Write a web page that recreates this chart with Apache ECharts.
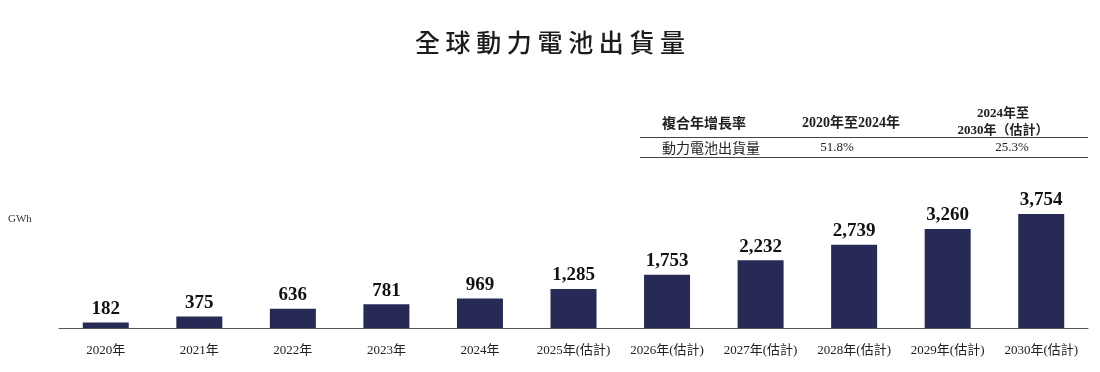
<!DOCTYPE html>
<html><head><meta charset="utf-8">
<script src="https://cdn.jsdelivr.net/npm/echarts@6/dist/echarts.min.js"></script>
<style>html,body{margin:0;padding:0;background:#fff}#c{width:1100px;height:372px}</style>
</head><body><div id="c"></div>
<script>
const categories = ['2020年','2021年','2022年','2023年','2024年','2025年(估計)','2026年(估計)','2027年(估計)','2028年(估計)','2029年(估計)','2030年(估計)'];
const shipments = [182, 375, 636, 781, 969, 1285, 1753, 2232, 2739, 3260, 3754];
const cagrHeaders = ['複合年增長率', '2020年至2024年', '2024年至\n2030年（估計）'];
const cagrRow = ['動力電池出貨量', '51.8%', '25.3%'];
const titleText = '全球動力電池出貨量';

const serif = '"Liberation Serif","Times New Roman","Noto Sans CJK TC",serif';
const cjk = '"Noto Sans CJK TC","Noto Sans CJK SC",sans-serif';
const ink = '#222';
const chart = echarts.init(document.getElementById('c'));
chart.setOption({
  animation: false,
  title: {
    text: titleText.split('').join(' '), left: 'center', top: 25,
    textStyle: {fontFamily: cjk, fontSize: 25, fontWeight: 500, color: '#1c1c1c'}
  },
  grid: {left: 59, right: 12, top: 206.4, bottom: 44},
  xAxis: {
    type: 'category', data: categories,
    axisLine: {lineStyle: {color: '#555', width: 1}},
    axisTick: {show: false},
    axisLabel: {fontFamily: serif, fontSize: 13, color: ink, margin: 16, interval: 0}
  },
  yAxis: {
    type: 'value', min: 0, max: 4000,
    name: 'GWh', nameLocation: 'end', nameGap: 0,
    nameTextStyle: {fontFamily: serif, fontSize: 11, color: '#333', align: 'left', padding: [0, 0, -18, -51]},
    axisLine: {show: false}, axisTick: {show: false}, axisLabel: {show: false},
    splitLine: {show: false}
  },
  graphic: [
    {type: 'line', shape: {x1: 640, y1: 137.5, x2: 1088, y2: 137.5}, style: {stroke: '#444', lineWidth: 1}},
    {type: 'line', shape: {x1: 640, y1: 157.5, x2: 1088, y2: 157.5}, style: {stroke: '#444', lineWidth: 1}},
    {type: 'text', x: 662, y: 123, style: {text: cagrHeaders[0], font: 'bold 14px ' + cjk, fill: ink, verticalAlign: 'middle'}},
    {type: 'text', x: 851, y: 123, style: {text: cagrHeaders[1], font: 'bold 14px ' + serif, fill: ink, align: 'center', verticalAlign: 'middle'}},
    {type: 'text', x: 1003, y: 122.5, style: {text: cagrHeaders[2], font: 'bold 13px ' + serif, fill: ink, align: 'center', verticalAlign: 'middle', lineHeight: 17}},
    {type: 'text', x: 662, y: 148, style: {text: cagrRow[0], font: '14px ' + cjk, fill: ink, verticalAlign: 'middle'}},
    {type: 'text', x: 837, y: 148, style: {text: cagrRow[1], font: '13px ' + serif, fill: ink, align: 'center', verticalAlign: 'middle'}},
    {type: 'text', x: 1012, y: 148, style: {text: cagrRow[2], font: '13px ' + serif, fill: ink, align: 'center', verticalAlign: 'middle'}}
  ],
  series: [{
    type: 'bar', data: shipments, barWidth: 46,
    itemStyle: {color: '#262a55'},
    label: {
      show: true, position: 'top', distance: 4,
      fontFamily: serif, fontSize: 19, fontWeight: 'bold', color: '#111',
      formatter: p => p.value.toLocaleString('en-US')
    }
  }]
});
</script></body></html>
